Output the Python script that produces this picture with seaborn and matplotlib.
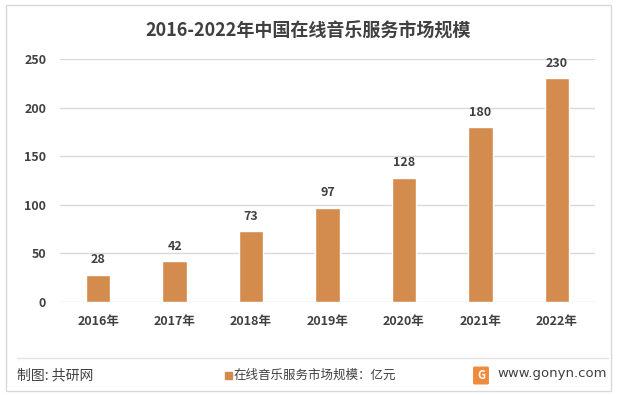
import numpy as np
import pandas as pd
import matplotlib
matplotlib.use("Agg")
import matplotlib.pyplot as plt
import seaborn as sns
from matplotlib.patches import Rectangle, FancyBboxPatch

# data
years = ["2016年", "2017年", "2018年", "2019年", "2020年", "2021年", "2022年"]
values = [28, 42, 73, 97, 128, 180, 230]
yticks = [0, 50, 100, 150, 200, 250]

title = "2016-2022年中国在线音乐服务市场规模"
legend_label = "在线音乐服务市场规模：亿元"
source = "制图: 共研网"
site = "www.gonyn.com"

bar_color = "#D48B4E"
text_color = "#404040"

sns.set_style("white")
plt.rcParams["font.family"] = ["Noto Sans CJK SC", "DejaVu Sans"]

df = pd.DataFrame({"year": years, "value": values})

fig = plt.figure(figsize=(6.17, 3.95), dpi=100)
ax = fig.add_axes([60 / 617, 1 - 302 / 395, 535 / 617, 243 / 395])

# outer border
fig.patches.append(Rectangle((6 / 617, 4 / 395), 605 / 617, 386 / 395,
                             transform=fig.transFigure, fill=False,
                             edgecolor="#D9D9D9", linewidth=1))

sns.barplot(data=df, x="year", y="value", color=bar_color, width=0.32,
            saturation=1, ax=ax, zorder=3)

ax.set_ylim(0, 250)
ax.set_yticks(yticks)
ax.set_xlim(-0.5, len(years) - 0.5)
ax.yaxis.grid(True, color="#D9D9D9", linewidth=1)
ax.set_axisbelow(True)
for s in ax.spines.values():
    s.set_visible(False)
ax.set_xlabel("")
ax.set_ylabel("")
ax.tick_params(axis="both", length=0, labelsize=9, colors=text_color)
ax.tick_params(axis="y", pad=10)
ax.tick_params(axis="x", pad=9)
for lab in ax.get_xticklabels():
    lab.set_fontweight("bold")
for lab in ax.get_yticklabels():
    lab.set_fontweight("bold")

for c in ax.containers:
    ax.bar_label(c, padding=6, fontsize=9, fontweight="bold", color=text_color)

fig.text(0.5, 1 - 31 / 395, title, ha="center", va="center", fontsize=13,
         fontweight="bold", color=text_color)

# footer
fig.add_artist(plt.Line2D([17 / 617, 608 / 617], [1 - 358 / 395, 1 - 358 / 395],
                          transform=fig.transFigure, color="#E3E3E3", linewidth=1))
fig.text(17 / 617, 1 - 375 / 395, source, ha="left", va="center", fontsize=10,
         color=text_color)
fig.patches.append(Rectangle((225 / 617, 1 - 379 / 395), 7 / 617, 7 / 395,
                             transform=fig.transFigure, color=bar_color))
fig.text(234 / 617, 1 - 375 / 395, legend_label, ha="left", va="center",
         fontsize=9, color=text_color)
fig.patches.append(FancyBboxPatch((475 / 617, 1 - 383 / 395), 12 / 617, 15 / 395,
                                  boxstyle="round,pad=0.002",
                                  transform=fig.transFigure, color="#F08A3C"))
fig.text(481 / 617, 1 - 375.5 / 395, "G", ha="center", va="center", fontsize=8,
         color="white", fontweight="bold")
fig.text(497 / 617, 1 - 374 / 395, site, ha="left", va="center", fontsize=9.5,
         color=text_color, family=["DejaVu Sans"])

fig.savefig("out.png", dpi=100)
